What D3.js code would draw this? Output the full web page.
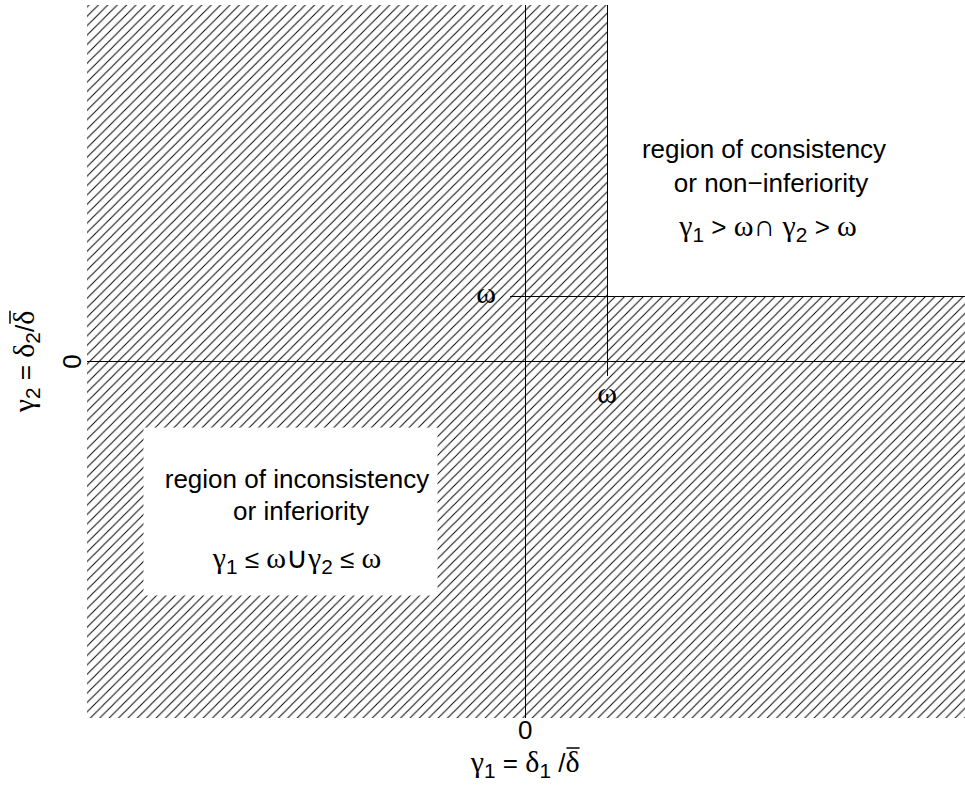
<!DOCTYPE html>
<html>
<head>
<meta charset="utf-8">
<script src="https://cdn.jsdelivr.net/npm/d3@7"></script>
<style>
  body { margin: 0; background: #fff; }
</style>
</head>
<body>
<div id="chart"></div>
<script>
// data (in plot units, omega = 1)
var xDomain = [-5.35, 5.37];
var yDomain = [-5.5, 5.5];
var omegaValue = 1;
var zeroTicks = [0];
var tickLabels = ['0'];
var omegaLabel = 'ω';
var upperLines = ['region of consistency', 'or non\u2212inferiority'];
var lowerLines = ['region of inconsistency', 'or inferiority'];
// backdrop of the lower text, plot units: [x0, x1, y0, y1]
var lowerBox = [-4.66, -1.07, -1.02, -3.61];
// how far the omega guides reach past the axes
var guideOverhang = [-0.18, -0.23];

var width = 965, height = 785;
var sans = '"Liberation Sans", Arial, sans-serif';
var greek = '"Liberation Serif", "Times New Roman", serif';
var fs = 26;
var gfs = 30;

var x = d3.scaleLinear().domain(xDomain).range([87, 965]);
var y = d3.scaleLinear().domain(yDomain).range([718, 5]);

var svg = d3.select('#chart').append('svg')
  .attr('width', width)
  .attr('height', height);

// hatch pattern
var sp = 9.4;
svg.append('defs').append('pattern')
  .attr('id', 'hatch')
  .attr('patternUnits', 'userSpaceOnUse')
  .attr('width', sp).attr('height', sp)
  .append('path')
  .attr('d', 'M0,' + sp + 'L' + sp + ',0M-2,2L2,-2M' + (sp - 2) + ',' + (sp + 2) + 'L' + (sp + 2) + ',' + (sp - 2))
  .attr('stroke', '#000')
  .attr('stroke-width', 0.95);

// hatched area = everything except the upper right quadrant
var x0 = x(xDomain[0]), x1 = x(xDomain[1]);
var yt = y(yDomain[1]), yb = y(yDomain[0]);
var xo = x(omegaValue), yo = y(omegaValue);
svg.append('path')
  .attr('d', d3.line()([[x0, yt], [xo, yt], [xo, yo], [x1, yo], [x1, yb], [x0, yb]]) + 'Z')
  .attr('fill', 'url(#hatch)');

svg.append('rect')
  .attr('x', x(lowerBox[0]))
  .attr('y', y(lowerBox[2]))
  .attr('width', x(lowerBox[1]) - x(lowerBox[0]))
  .attr('height', y(lowerBox[3]) - y(lowerBox[2]))
  .attr('fill', '#fff');

// lines
var lines = [
  [[x(0), yt], [x(0), yb]],
  [[x0, y(0)], [x1, y(0)]],
  [[x(guideOverhang[0]), yo], [x1, yo]],
  [[xo, yt], [xo, y(guideOverhang[1])]]
];
svg.selectAll('line.guide').data(lines).enter().append('line')
  .attr('class', 'guide')
  .attr('x1', function(d) { return d[0][0]; })
  .attr('y1', function(d) { return d[0][1]; })
  .attr('x2', function(d) { return d[1][0]; })
  .attr('y2', function(d) { return d[1][1]; })
  .attr('stroke', '#000')
  .attr('stroke-width', 1)
  .attr('shape-rendering', 'crispEdges');

// rich text: parts {t, g: greek, sub: subscript, bar: overline}
function richText(parent, parts, px, py, size) {
  var t = parent.append('text')
    .attr('x', px).attr('y', py)
    .attr('text-anchor', 'middle')
    .style('font-family', sans)
    .style('font-size', size + 'px');
  var cur = 0, idx = 0, bars = [];
  parts.forEach(function(p) {
    var target = p.sub ? size * 0.24 : 0;
    var ts = t.append('tspan').text(p.t);
    if (target !== cur) ts.attr('dy', target - cur);
    cur = target;
    if (p.g) ts.style('font-family', greek).style('font-size', (size * gfs / fs) + 'px');
    if (p.sub) ts.style('font-size', (size * 0.8) + 'px');
    if (p.bar) bars.push(idx);
    idx += p.t.length;
  });
  bars.forEach(function(i) {
    var e = t.node().getExtentOfChar(i);
    parent.append('line')
      .attr('x1', e.x + 1).attr('x2', e.x + e.width)
      .attr('y1', e.y + 3).attr('y2', e.y + 3)
      .attr('stroke', '#000').attr('stroke-width', 1.5);
  });
  return t;
}

// tick labels
svg.selectAll('text.xtick').data(zeroTicks).enter().append('text')
  .attr('class', 'xtick')
  .attr('x', function(d) { return x(d); })
  .attr('y', 739)
  .attr('text-anchor', 'middle')
  .style('font-family', sans).style('font-size', fs + 'px')
  .text(function(d, i) { return tickLabels[i]; });

svg.selectAll('text.ytick').data(zeroTicks).enter().append('text')
  .attr('class', 'ytick')
  .attr('transform', function(d) { return 'translate(81,' + y(d) + ') rotate(-90)'; })
  .attr('text-anchor', 'middle')
  .style('font-family', sans).style('font-size', fs + 'px')
  .text(function(d, i) { return tickLabels[i]; });

// omega labels
svg.append('text')
  .attr('x', x(0) - 39).attr('y', yo + 6)
  .attr('text-anchor', 'middle')
  .style('font-family', greek).style('font-size', gfs + 'px')
  .text(omegaLabel);
svg.append('text')
  .attr('x', xo).attr('y', y(0) + 41)
  .attr('text-anchor', 'middle')
  .style('font-family', greek).style('font-size', gfs + 'px')
  .text(omegaLabel);

// axis titles
richText(svg, [
  {t: 'γ', g: true}, {t: '1', sub: true}, {t: ' = '}, {t: 'δ', g: true},
  {t: '1', sub: true}, {t: ' /'}, {t: 'δ', g: true, bar: true}
], x(0), 772, fs);

var yt2 = svg.append('g').attr('transform', 'translate(34,' + y(0) + ') rotate(-90)');
richText(yt2, [
  {t: 'γ', g: true}, {t: '2', sub: true}, {t: ' = '}, {t: 'δ', g: true},
  {t: '2', sub: true}, {t: '/'}, {t: 'δ', g: true, bar: true}
], 0, 0, fs);

// region texts
svg.append('text').attr('x', 764).attr('y', 158).attr('text-anchor', 'middle')
  .style('font-family', sans).style('font-size', fs + 'px').text(upperLines[0]);
svg.append('text').attr('x', 771).attr('y', 192).attr('text-anchor', 'middle')
  .style('font-family', sans).style('font-size', fs + 'px').text(upperLines[1]);
richText(svg, [
  {t: 'γ', g: true}, {t: '1', sub: true}, {t: ' > '}, {t: 'ω∩ ', g: true},
  {t: 'γ', g: true}, {t: '2', sub: true}, {t: ' > '}, {t: 'ω', g: true}
], 768, 236, fs);

svg.append('text').attr('x', 297).attr('y', 488).attr('text-anchor', 'middle')
  .style('font-family', sans).style('font-size', fs + 'px').text(lowerLines[0]);
svg.append('text').attr('x', 301).attr('y', 520).attr('text-anchor', 'middle')
  .style('font-family', sans).style('font-size', fs + 'px').text(lowerLines[1]);
richText(svg, [
  {t: 'γ', g: true}, {t: '1', sub: true}, {t: ' ≤ '}, {t: 'ω∪', g: true},
  {t: 'γ', g: true}, {t: '2', sub: true}, {t: ' ≤ '}, {t: 'ω', g: true}
], 297, 568, fs);
</script>
</body>
</html>
